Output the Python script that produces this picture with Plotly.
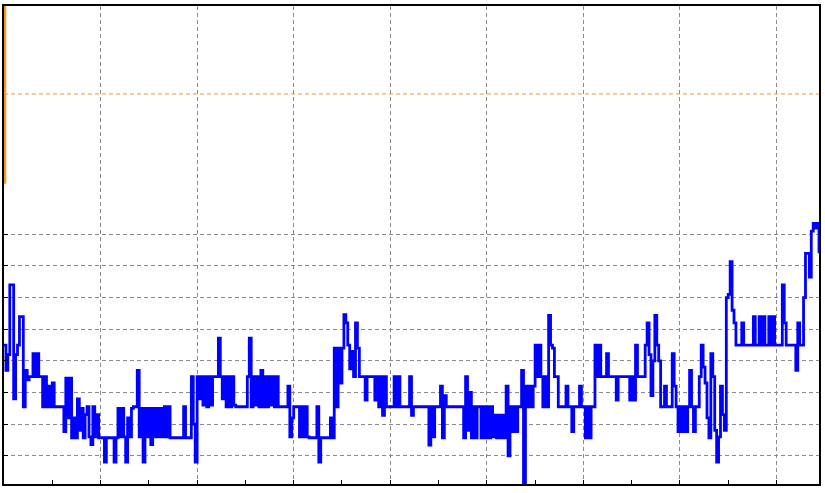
import plotly.graph_objects as go

# Blue signal: one value per sample (sample index is the x axis)
signal = [
    4.5, 3.7, 4.2, 6.4, 6.4, 2.8, 4.2, 4.5, 5.4, 5.4,
    2.55, 3.7, 3.4, 3.5, 3.5, 4.23, 3.5, 4.23, 3.5, 3.5,
    2.55, 3.5, 2.55, 3.2, 2.55, 3.3, 2.55, 2.55, 2.55, 2.55,
    2.55, 1.76, 3.45, 2.2, 3.45, 1.57, 2.2, 1.57, 2.8, 1.8,
    2.5, 1.57, 2.3, 2.55, 1.6, 1.35, 2.55, 1.6, 2.3, 1.57,
    1.57, 1.57, 0.8, 1.57, 1.57, 1.57, 1.57, 0.8, 1.57, 2.5,
    1.6, 2.5, 1.6, 0.8, 2.2, 1.6, 2.5, 2.55, 2.55, 3.7,
    1.6, 2.5, 0.8, 2.5, 1.6, 2.5, 1.35, 2.5, 1.6, 2.5,
    1.6, 2.5, 1.6, 2.55, 1.6, 2.55, 1.57, 1.57, 1.57, 1.57,
    1.57, 1.57, 1.57, 2.55, 1.57, 1.57, 1.57, 3.5, 2.0, 0.8,
    3.5, 2.8, 3.5, 2.6, 3.5, 2.55, 3.5, 2.6, 3.5, 3.5,
    3.5, 4.72, 3.5, 2.8, 3.5, 2.55, 3.5, 2.55, 3.5, 2.6,
    2.55, 2.55, 2.55, 2.55, 2.55, 2.55, 3.5, 4.72, 2.55, 3.5,
    2.6, 3.5, 2.55, 3.7, 2.55, 3.5, 2.55, 3.5, 2.6, 3.5,
    2.55, 3.5, 2.55, 2.55, 2.55, 2.55, 2.55, 3.2, 1.6, 2.2,
    2.55, 2.55, 2.55, 1.6, 2.55, 1.6, 2.55, 1.6, 1.57, 1.57,
    1.57, 1.57, 2.55, 0.8, 1.57, 1.57, 1.57, 1.57, 1.57, 2.2,
    1.57, 4.4, 2.55, 4.4, 3.3, 4.4, 5.46, 5.2, 4.5, 3.75,
    4.3, 3.5, 5.2, 4.4, 3.5, 3.5, 3.5, 2.76, 3.5, 3.5,
    3.5, 3.5, 2.76, 3.5, 2.55, 3.5, 2.28, 3.5, 2.55, 2.55,
    2.55, 2.55, 3.5, 2.55, 3.5, 2.55, 2.55, 2.55, 2.55, 2.55,
    3.5, 2.28, 2.55, 2.55, 2.55, 2.55, 2.55, 2.55, 2.55, 2.55,
    1.34, 2.55, 1.6, 2.55, 2.55, 2.55, 3.2, 1.57, 2.9, 2.55,
    2.55, 2.55, 2.55, 2.55, 2.55, 2.55, 2.55, 2.55, 1.57, 3.5,
    1.8, 3.0, 1.57, 2.55, 1.57, 2.55, 2.55, 1.57, 2.55, 1.57,
    2.55, 1.57, 2.55, 1.6, 2.28, 1.57, 2.28, 1.57, 2.28, 1.57,
    3.2, 1.0, 2.55, 1.76, 2.55, 1.76, 2.55, 2.55, 3.7, 0.08,
    3.2, 2.55, 3.2, 2.55, 3.2, 4.5, 3.5, 4.5, 3.5, 2.55,
    3.5, 2.55, 5.44, 4.5, 4.4, 3.5, 3.5, 2.55, 2.55, 2.55,
    2.55, 3.2, 2.55, 2.55, 1.76, 2.55, 2.55, 2.55, 3.2, 2.55,
    2.55, 1.57, 2.55, 1.57, 2.55, 2.55, 4.5, 3.5, 4.5, 3.5,
    3.5, 3.5, 4.23, 3.5, 3.5, 3.5, 3.5, 2.76, 3.5, 3.5,
    3.5, 3.5, 3.5, 3.5, 2.76, 3.5, 2.76, 4.5, 3.5, 3.5,
    3.5, 3.5, 4.5, 5.2, 4.2, 2.9, 4.0, 5.44, 4.5, 4.0,
    2.55, 2.55, 3.2, 2.55, 2.55, 2.55, 4.23, 3.2, 2.55, 1.76,
    2.55, 1.76, 2.55, 1.76, 2.55, 3.7, 2.55, 1.76, 2.55, 2.55,
    3.5, 4.5, 3.8, 3.3, 2.2, 1.57, 4.23, 3.5, 1.8, 0.8,
    1.6, 3.2, 2.3, 1.8, 6.0, 6.1, 7.14, 5.6, 5.2, 4.5,
    4.5, 4.5, 5.2, 4.5, 4.5, 4.5, 4.5, 4.5, 5.4, 4.5,
    4.5, 5.4, 4.5, 5.4, 4.5, 4.5, 5.4, 4.5, 5.4, 4.5,
    4.5, 4.5, 4.5, 6.4, 5.2, 4.5, 4.5, 4.5, 4.5, 4.5,
    3.7, 5.2, 4.5, 4.5, 6.0, 7.4, 7.4, 6.65, 8.1, 8.35,
    8.2, 8.35, 7.4,
]
samples = list(range(len(signal)))

# Orange reference series (only its start is visible) and threshold level
ref_x = [0.4, 0.4]
ref_y = [9.6, 16.0]
threshold = 12.44

y_grid = [1, 2, 3, 4, 5, 6, 7, 8]
x_range = [0, 422]
y_range = [0.107, 15.22]

fig = go.Figure()
fig.add_trace(go.Scatter(
    x=[x_range[0], x_range[1]], y=[threshold, threshold], mode="lines",
    line=dict(color="#F5962A", width=1, dash="4px,3px"), hoverinfo="skip"))
fig.add_trace(go.Scatter(
    x=samples, y=signal, mode="lines", line_shape="hv",
    line=dict(color="#0000FF", width=2.8)))
fig.add_trace(go.Scatter(
    x=ref_x, y=ref_y, mode="lines",
    line=dict(color="#F5962A", width=3)))

fig.update_layout(
    width=825, height=493,
    margin=dict(l=4, r=4, t=5, b=9),
    paper_bgcolor="white", plot_bgcolor="white",
    showlegend=False,
)
fig.update_xaxes(
    range=x_range, tickmode="linear", tick0=0, dtick=50,
    showticklabels=False, ticks="inside", ticklen=4, tickcolor="black",
    showgrid=True, gridcolor="#8a8a8a", gridwidth=1, griddash="4px,3px",
    minor=dict(tickmode="linear", tick0=0, dtick=25, ticks="inside", ticklen=4,
               tickcolor="black", showgrid=False),
    zeroline=False, showline=True, linecolor="black", linewidth=2, mirror=True,
)
fig.update_yaxes(
    range=y_range, tickmode="array", tickvals=y_grid,
    showticklabels=False, ticks="inside", ticklen=4, tickcolor="black",
    showgrid=True, gridcolor="#8a8a8a", gridwidth=1, griddash="4px,3px",
    zeroline=False, showline=True, linecolor="black", linewidth=2, mirror=True,
)

fig.write_html("out.html",
               config={"displayModeBar": False},
               post_script="document.body.style.margin='0';document.body.style.overflow='hidden';")
